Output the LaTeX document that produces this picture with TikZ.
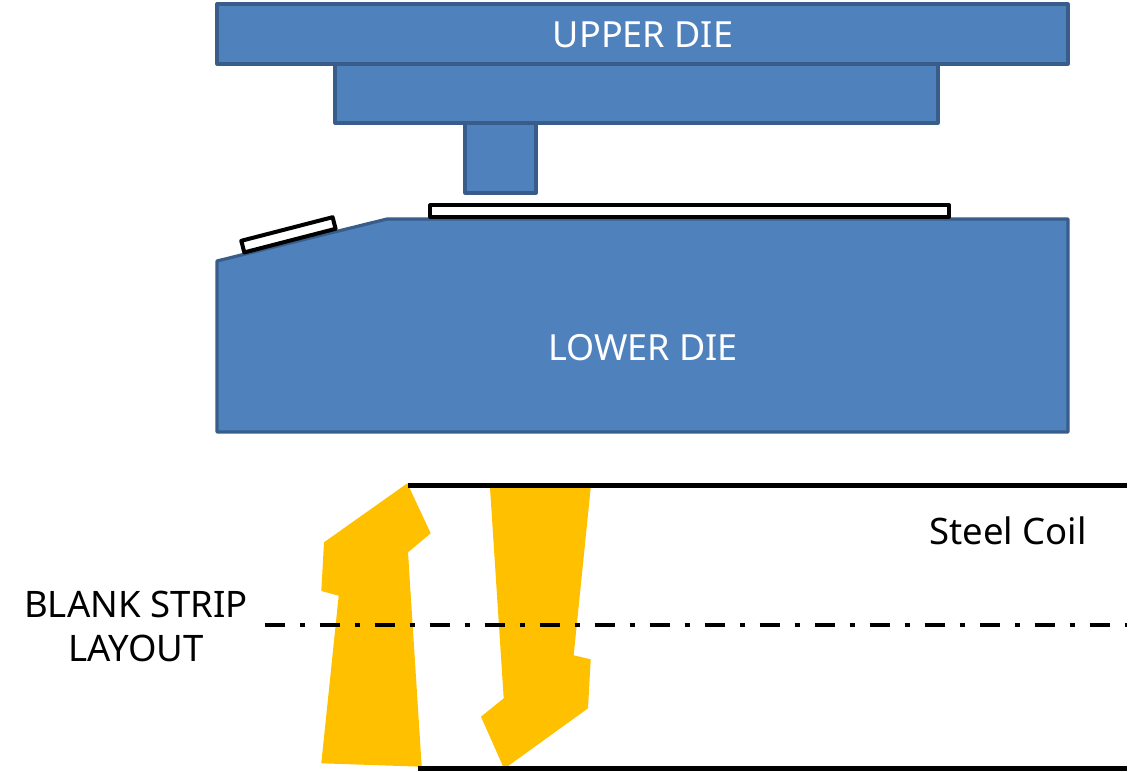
\documentclass[tikz,border=0pt]{standalone}
\usepackage{fontspec}
\setmainfont{Noto Sans}
\tikzset{
 die/.style={fill=dieblue,draw=dieedge,line width=3.2pt,line join=round},
 white strip/.style={fill=white,draw=black,line width=4pt,line join=round},
 blank/.style={fill=blankyellow,draw=none},
 heavy/.style={draw=black,line width=4.5pt},
 dielabel/.style={text=white,font=\fontsize{36}{40}\selectfont,inner sep=0pt},
 blacklabel/.style={text=black,font=\fontsize{36.5}{44}\selectfont,inner sep=0pt,align=center},
}
\definecolor{dieblue}{HTML}{4F81BD}
\definecolor{dieedge}{HTML}{385D8A}
\definecolor{blankyellow}{HTML}{FFC000}
\begin{document}
\begin{tikzpicture}[x=1pt,y=-1pt]
\useasboundingbox (0,0) rectangle (1140,771);
\draw[die] (335,64) rectangle (938,123);
\draw[die] (465,123) rectangle (536,193);
\draw[die] (217,4) rectangle (1068,64);
\draw[die] (217,261) -- (387,219) -- (1068,219) -- (1068,432) -- (217,432) -- cycle;
\draw[white strip] (430.3,205.3) rectangle (949,216.7);
\draw[white strip] (241.3,240.8) -- (332.6,217.2) -- (335.6,228.8) -- (244.3,252.4) -- cycle;
\fill[blank] (407.3,483.3) -- (430.7,533.3) -- (408,552.3) -- (421.7,766.7) -- (321.3,763.3) -- (338.7,595.7) -- (321.3,591) -- (324,542.3) -- cycle;
\fill[blank] (490,487.7) -- (590.7,487.7) -- (573.7,655.3) -- (590.7,659.3) -- (588,708.3) -- (506.7,767) -- (503.3,767) -- (481,716.7) -- (503.7,698.3) -- cycle;
\coordinate (t1) at (407.5,485.3); \coordinate (t2) at (1127,485.3);
\coordinate (b1) at (417.5,768.5); \coordinate (b2) at (1127,768.5);
\coordinate (m1) at (264.5,625); \coordinate (m2) at (1127,625);
\draw[heavy] (t1) -- (t2);
\draw[heavy] (b1) -- (b2);
\draw[heavy,dash pattern=on 20pt off 15pt on 5pt off 15pt] (m1) -- (m2);
\node[dielabel] (upper) at (643,35) {UPPER DIE};
\node[dielabel] (lower) at (643,348) {LOWER DIE};
\node[blacklabel] (coil) at (1008,531) {Steel Coil};
\node[blacklabel] (layout) at (136,626) {BLANK STRIP\\LAYOUT};
\end{tikzpicture}
\end{document}
